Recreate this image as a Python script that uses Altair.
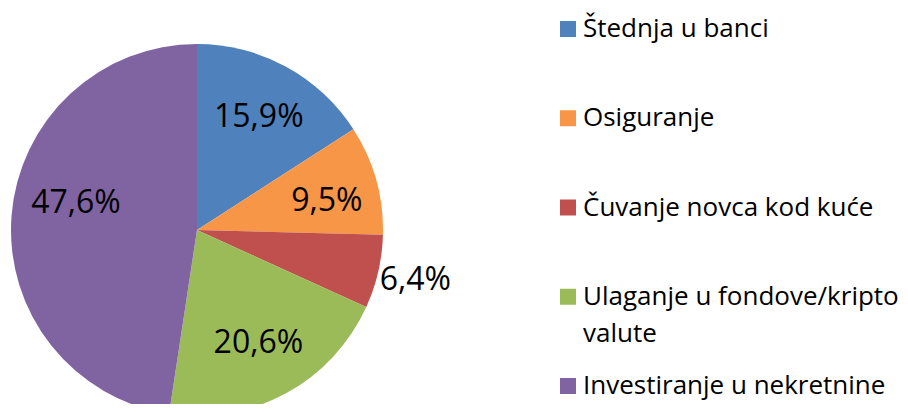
import altair as alt
import pandas as pd

categories = [
    "Štednja u banci",
    "Osiguranje",
    "Čuvanje novca kod kuće",
    "Ulaganje u fondove/kripto valute",
    "Investiranje u nekretnine",
]
values = [15.9, 9.5, 6.4, 20.6, 47.6]
labels = ["15,9%", "9,5%", "6,4%", "20,6%", "47,6%"]
colors = ["#4F81BD", "#F79646", "#C0504D", "#9BBB59", "#8064A2"]

df = pd.DataFrame({"cat": categories, "val": values, "label": labels, "idx": list(range(len(categories)))})

W, H = 892, 396
CX, CY = 189, 222
FONT = "Open Sans"

color = alt.Color("cat:N", scale=alt.Scale(domain=categories, range=colors), legend=None)
base = alt.Chart(df)

pie = base.mark_arc(radius=186).encode(
    theta=alt.Theta("val:Q", stack=True),
    order=alt.Order("idx:Q"),
    color=color,
    x=alt.value(CX),
    y=alt.value(CY),
)

# label placement: inside the slice, small slices outside; the largest slice's
# label sits a little above its bisector, as in the reference
pie_text = base.transform_window(
    cum="sum(val)", sort=[alt.SortField("idx")]
).transform_calculate(
    mid="datum.cum - datum.val / 2 + (datum.val > 40 ? 2.3 : (datum.val < 12 && datum.val >= 8 ? 0.9 : 0))",
    r="datum.val < 8 ? 224 : (datum.val > 40 ? 124 : (datum.val < 12 ? 133 : 129))",
).mark_text(font=FONT, fontSize=32, color="#000000", align="center", baseline="middle").encode(
    theta=alt.Theta("mid:Q", stack=False),
    radius=alt.Radius("r:Q", scale=None),
    text="label:N",
    x=alt.value(CX),
    y=alt.value(CY),
)

yleg = alt.Y("idx:Q", scale=alt.Scale(domain=[0, 4], range=[21, 378]), axis=None)

leg_sq = base.mark_square(size=256, filled=True, opacity=1).encode(
    x=alt.value(560),
    y=yleg,
    color=color,
)

leg_text = base.transform_calculate(
    disp="replace(datum.cat, 'kripto ', 'kripto\\n')"
).mark_text(font=FONT, fontSize=26, color="#000000", align="left", baseline="middle",
            lineBreak="\n", lineHeight=37).encode(
    x=alt.value(575),
    y=yleg,
    text="disp:N",
)

chart = alt.layer(pie, pie_text, leg_sq, leg_text).properties(
    width=W, height=H, padding=0, autosize=alt.AutoSizeParams(type="none")
).configure_view(stroke=None)

chart.save("out.html", embed_options={"renderer": "svg", "actions": False})
